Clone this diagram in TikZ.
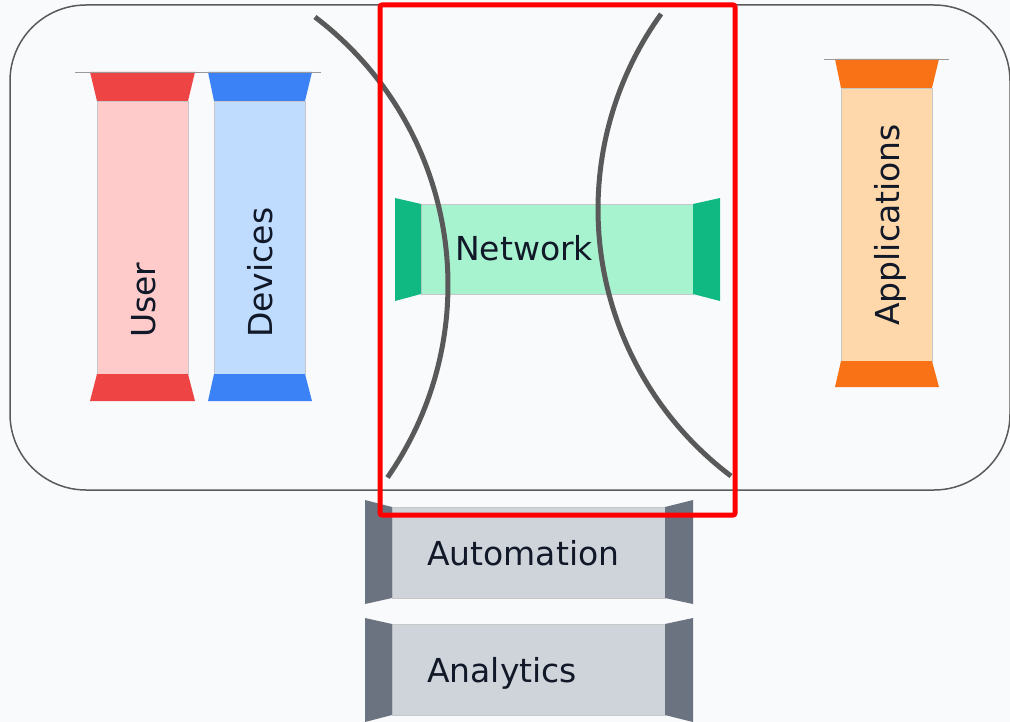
\documentclass[tikz,border=0pt]{standalone}
\usepackage{fontspec}
\setmainfont{DejaVu Sans}
\definecolor{bgc}{HTML}{F8FAFC}
\definecolor{frame}{HTML}{5A5A5A}
\definecolor{ink}{HTML}{111827}
\definecolor{redcap}{HTML}{EF4444}\definecolor{redbody}{HTML}{FECACA}
\definecolor{bluecap}{HTML}{3B82F6}\definecolor{bluebody}{HTML}{BFDBFE}
\definecolor{orangecap}{HTML}{F97316}\definecolor{orangebody}{HTML}{FED7AA}
\definecolor{greencap}{HTML}{10B981}\definecolor{greenbody}{HTML}{A7F3D0}
\definecolor{graycap}{HTML}{6B7280}\definecolor{graybody}{HTML}{CFD3DA}
\definecolor{arcc}{HTML}{595959}
\tikzset{
  bodyedge/.style={draw=black!22, line width=0.8pt},
  tag/.style={inner sep=0pt, anchor=west, text height=24pt, text depth=0pt,
              font=\fontsize{33}{40}\selectfont, text=ink},
  arcline/.style={draw=arcc, line width=5pt},
  focusbox/.style={draw=red, line width=5pt, rounded corners=2pt},
}
% a vertical column: outer x0,x1; inner x2,x3; top y0/y1, bottom y2/y3
\newcommand{\vcolumn}[9]{%
  \fill[#9body, bodyedge] (#3,#6) rectangle (#4,#7);
  \fill[#9cap] (#1,#5) -- (#2,#5) -- (#4,#6) -- (#3,#6) -- cycle;
  \fill[#9cap] (#3,#7) -- (#4,#7) -- (#2,#8) -- (#1,#8) -- cycle;
}
% a horizontal bar: outer y0,y1; inner y2,y3; left x0/x1, right x2/x3
\newcommand{\hcolumn}[9]{%
  \fill[#9body, bodyedge] (#6,#3) rectangle (#7,#4);
  \fill[#9cap] (#5,#1) -- (#6,#3) -- (#6,#4) -- (#5,#2) -- cycle;
  \fill[#9cap] (#7,#3) -- (#8,#1) -- (#8,#2) -- (#7,#4) -- cycle;
}
\begin{document}
\begin{tikzpicture}[x=1pt, y=-1pt]
  \useasboundingbox (0,0) rectangle (1010,722);
  \fill[bgc] (0,0) rectangle (1010,722);

  % outer container
  \draw[frame, line width=1.5pt, rounded corners=76pt] (10,5) rectangle (1010,490);

  % vertical columns
  \vcolumn{90}{195}{97}{188}{72}{101}{374}{401}{red}
  \vcolumn{208}{312}{214}{305}{72}{101}{374}{401}{blue}
  \vcolumn{835}{939}{841}{932}{59}{88}{361}{387}{orange}
  \draw[black!40, line width=0.8pt] (75,72) -- (321,72);
  \draw[black!40, line width=0.8pt] (824,59) -- (949,59);

  % horizontal bars
  \hcolumn{198}{301}{204}{294}{395}{421}{693}{720}{green}
  \hcolumn{500}{604}{507}{598}{365}{392}{665}{693}{gray}
  \hcolumn{618}{722}{624}{715}{365}{392}{665}{693}{gray}

  % labels
  \node[tag, rotate=90] (user) at (143,338) {User};
  \node[tag, rotate=90] (devices) at (260,338) {Devices};
  \node[tag, rotate=90] (apps) at (887,326) {Applications};
  \node[tag] (network) at (455,249) {Network};
  \node[tag] (automation) at (427,553) {Automation};
  \node[tag] (analytics) at (427,670) {Analytics};

  % boundary arcs
  \draw[arcline] plot[domain=-52.8:34.9, samples=80]
    ({111.5+336.5*cos(\x)}, {285+336.5*sin(\x)});
  \draw[arcline] plot[domain=127:215.8, samples=80]
    ({932+334*cos(\x)}, {209.3+334*sin(\x)});

  % highlight frame
  \draw[focusbox] (380,5) rectangle (735,515);
\end{tikzpicture}
\end{document}
